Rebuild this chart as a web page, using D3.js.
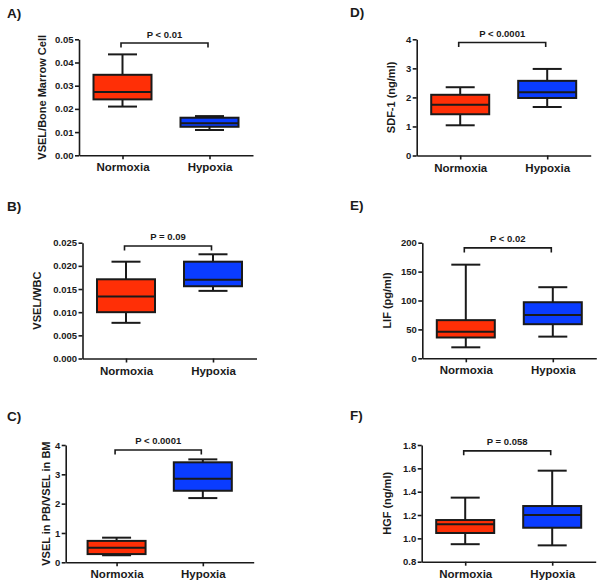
<!DOCTYPE html>
<html>
<head>
<meta charset="utf-8">
<script src="https://cdn.jsdelivr.net/npm/d3@7"></script>
<style>
  html, body { margin: 0; padding: 0; background: #fff; }
  svg { display: block; }
  text { font-family: "Liberation Sans", Arial, Helvetica, sans-serif; font-weight: bold; fill: #1a1a1a; }
</style>
</head>
<body>
<svg id="chart" width="600" height="587"></svg>
<script>
// ---------------- data ----------------
const categories = ["Normoxia", "Hypoxia"];
const panelIds = ["A)", "B)", "C)", "D)", "E)", "F)"];
const yTitles = ["VSEL/Bone Marrow Cell", "VSEL/WBC", "VSEL in PB/VSEL in BM",
                 "SDF-1 (ng/ml)", "LIF (pg/ml)", "HGF (ng/ml)"];
const pLabels = ["P < 0.01", "P = 0.09", "P < 0.0001", "P < 0.0001", "P < 0.02", "P = 0.058"];
const yDomains = [[0, 0.05], [0, 0.025], [0, 4], [0, 4], [0, 200], [0.8, 1.8]];
const yTicks = [
  [0, 0.01, 0.02, 0.03, 0.04, 0.05],
  [0, 0.005, 0.01, 0.015, 0.02, 0.025],
  [0, 1, 2, 3, 4],
  [0, 1, 2, 3, 4],
  [0, 50, 100, 150, 200],
  [0.8, 1.0, 1.2, 1.4, 1.6, 1.8]
];
const yTickFormats = [".2f", ".3f", "d", "d", "d", ".1f"];
// five-number summaries: [min, q1, median, q3, max]
const normoxiaStats = [
  [0.0210, 0.0241, 0.0273, 0.0347, 0.0435],
  [0.0077, 0.0100, 0.0134, 0.0171, 0.0209],
  [0.24, 0.28, 0.50, 0.73, 0.84],
  [1.04, 1.42, 1.75, 2.09, 2.35],
  [19, 36, 46, 66, 162],
  [0.95, 1.046, 1.12, 1.157, 1.349]
];
const hypoxiaStats = [
  [0.0109, 0.0123, 0.0138, 0.0162, 0.0169],
  [0.0146, 0.0156, 0.0170, 0.0209, 0.0225],
  [2.19, 2.44, 2.85, 3.41, 3.51],
  [1.67, 1.98, 2.18, 2.57, 2.98],
  [37.5, 59, 75, 97, 123],
  [0.94, 1.091, 1.20, 1.277, 1.58]
];
const bracketLevels = [0.0484, 0.0243, 3.83, 3.89, 191, 1.75];

// ---------------- layout ----------------
const layout = [
  { ax: 79,    w: 174, pad: 0.5,  top: 39.3,  bottom: 155.3, titleX: 46,  labX: 7,   labY: 17.5 },
  { ax: 82.5,  w: 174, pad: 0.5,  top: 242.7, bottom: 358.5, titleX: 41,  labX: 7,   labY: 211 },
  { ax: 65.7,  w: 188, pad: 0.59, top: 445,   bottom: 562.3, titleX: 50,  labX: 7,   labY: 420.5 },
  { ax: 416.7, w: 174, pad: 0.5,  top: 39.3,  bottom: 155.5, titleX: 395, labX: 350, labY: 16.5 },
  { ax: 422.3, w: 174, pad: 0.5,  top: 242.7, bottom: 358.3, titleX: 391, labX: 350, labY: 210 },
  { ax: 421.7, w: 174, pad: 0.5,  top: 445,   bottom: 561.7, titleX: 391, labX: 350, labY: 419.5 }
];
const boxW = 58, capW = 29;
const fills = { Normoxia: "#ff2f06", Hypoxia: "#0a3cff" };

const svg = d3.select("#chart");

layout.forEach((L, i) => {
  const g = svg.append("g");
  const x = d3.scalePoint().domain(categories).range([L.ax, L.ax + L.w]).padding(L.pad);
  const y = d3.scaleLinear().domain(yDomains[i]).range([L.bottom, L.top]);

  // panel letter
  g.append("text").attr("x", L.labX).attr("y", L.labY)
    .attr("font-size", 13.5).text(panelIds[i]);

  // y axis
  const yAx = g.append("g").attr("transform", `translate(${L.ax},0)`)
    .call(d3.axisLeft(y).tickValues(yTicks[i]).tickFormat(d3.format(yTickFormats[i]))
      .tickSize(4).tickSizeOuter(0).tickPadding(1.5));
  yAx.selectAll("text").attr("font-size", 9.5).attr("font-family", "Liberation Sans, Arial, sans-serif")
    .attr("font-weight", "bold").attr("fill", "#1a1a1a");
  yAx.selectAll("path, line").attr("stroke", "#1a1a1a").attr("stroke-width", 1.6);

  // x axis
  const xAx = g.append("g").attr("transform", `translate(0,${L.bottom})`)
    .call(d3.axisBottom(x).tickSize(4).tickSizeOuter(0).tickPadding(4));
  xAx.selectAll("text").attr("font-size", 11.5).attr("font-family", "Liberation Sans, Arial, sans-serif")
    .attr("font-weight", "bold").attr("fill", "#1a1a1a");
  xAx.selectAll("path, line").attr("stroke", "#1a1a1a").attr("stroke-width", 1.6);

  // y title
  g.append("text")
    .attr("transform", `translate(${L.titleX},${(L.top + L.bottom) / 2}) rotate(-90)`)
    .attr("text-anchor", "middle").attr("font-size", 11).text(yTitles[i]);

  // boxes
  const groups = [
    { cat: "Normoxia", s: normoxiaStats[i] },
    { cat: "Hypoxia", s: hypoxiaStats[i] }
  ];
  groups.forEach(d => {
    const cx = x(d.cat);
    const [mn, q1, md, q3, mx] = d.s;
    const bg = g.append("g").attr("stroke", "#1a1a1a").attr("stroke-width", 2).attr("fill", "none");
    // whiskers
    bg.append("line").attr("x1", cx).attr("x2", cx).attr("y1", y(mx)).attr("y2", y(q3));
    bg.append("line").attr("x1", cx).attr("x2", cx).attr("y1", y(q1)).attr("y2", y(mn));
    bg.append("line").attr("x1", cx - capW / 2).attr("x2", cx + capW / 2).attr("y1", y(mx)).attr("y2", y(mx));
    bg.append("line").attr("x1", cx - capW / 2).attr("x2", cx + capW / 2).attr("y1", y(mn)).attr("y2", y(mn));
    // box
    bg.append("rect").attr("x", cx - boxW / 2).attr("y", y(q3))
      .attr("width", boxW).attr("height", y(q1) - y(q3)).attr("fill", fills[d.cat]);
    // median
    bg.append("line").attr("x1", cx - boxW / 2).attr("x2", cx + boxW / 2).attr("y1", y(md)).attr("y2", y(md));
  });

  // significance bracket
  const by = y(bracketLevels[i]);
  const x1 = x(categories[0]) - 1.5, x2 = x(categories[1]) - 1.5;
  g.append("path")
    .attr("d", `M${x1},${by + 4.5}V${by}H${x2}V${by + 4.5}`)
    .attr("fill", "none").attr("stroke", "#1a1a1a").attr("stroke-width", 1.6);
  g.append("text").attr("x", (x1 + x2) / 2).attr("y", by - 5.5)
    .attr("text-anchor", "middle").attr("font-size", 9.5).text(pLabels[i]);
});
</script>
</body>
</html>
